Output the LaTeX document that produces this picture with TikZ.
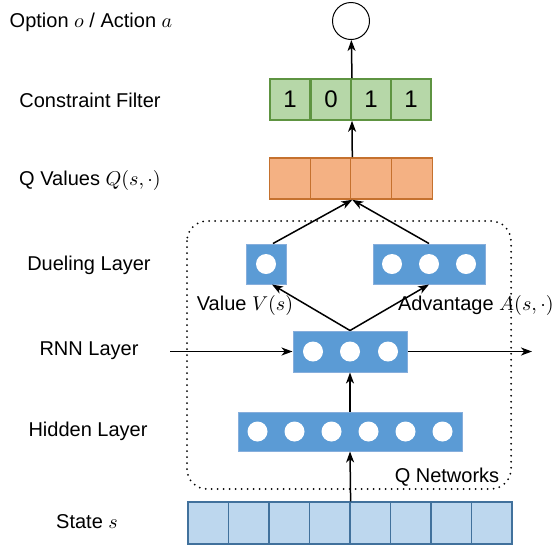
\documentclass[tikz,border=0pt]{standalone}
\usepackage{fontspec}
\setmainfont{Liberation Sans}
\usetikzlibrary{arrows.meta}

\definecolor{bluefill}{HTML}{5B9BD5}
\definecolor{blueline}{HTML}{86AEDC}
\definecolor{statefill}{HTML}{BDD7EE}
\definecolor{stateline}{HTML}{41719C}
\definecolor{greenfill}{HTML}{B6D7A8}
\definecolor{greenline}{HTML}{5E9441}
\definecolor{orangefill}{HTML}{F4B183}
\definecolor{orangeline}{HTML}{C5712E}

\begin{document}
\begin{tikzpicture}[x=0.5pt,y=-0.5pt,>={Stealth[length=5.5pt,width=4pt,inset=1.6pt]},
    arr/.style={->,line width=0.75pt},
    cell/.style={draw,inner sep=0pt,line width=0.8pt},
    unit/.style={circle,fill=white,minimum size=10pt,inner sep=0pt},
    layer/.style={draw=blueline,fill=bluefill,line width=0.5pt,inner sep=0pt,minimum height=20pt}]

        \useasboundingbox (0,0) rectangle (557,548);

        % row labels
        \begin{scope}[every node/.style={font=\fontsize{10}{12}\selectfont}]
          \node (lopt)   at (91,22)   {Option $o$ / Action $a$};
          \node (lfilt)  at (90,100)  {Constraint Filter};
          \node (lq)     at (90,180)  {Q Values $Q(s,\cdot)$};
          \node (lduel)  at (89,265)  {Dueling Layer};
          \node (lrnn)   at (89,351)  {RNN Layer};
          \node (lhid)   at (88,431)  {Hidden Layer};
          \node (lstate) at (87,522)  {State $s$};
          \node (lval)   at (245,305) {Value $V(s)$};
          \node[anchor=east,inner sep=1pt] (ladv) at (556,305) {Advantage $A(s,\cdot)$};
          \node (lnet)   at (447,477) {Q Networks};
        \end{scope}

        % Q networks region
        \draw[line width=1pt,line cap=round,dash pattern=on 0pt off 3pt,rounded corners=10pt]
          (187,221) rectangle (511,489);

        % output
        \node[circle,draw,line width=0.5pt,minimum size=18.5pt,inner sep=0pt] (out) at (351,21) {};

        % constraint filter
        \begin{scope}[every node/.style={cell,draw=greenline,fill=greenfill,minimum width=20.2pt,
            minimum height=20.5pt,font=\fontsize{12}{14}\selectfont}]
          \node (f1) at (290,99.5) {1};
          \node (f2) at (331,99.5) {0};
          \node (f3) at (371,99.5) {1};
          \node (f4) at (411,99.5) {1};
        \end{scope}

        % Q values
        \foreach \i/\x in {1/290,2/331,3/371,4/412}
          \node[cell,draw=orangeline,fill=orangefill,minimum width=20.5pt,minimum height=20.5pt]
            (q\i) at (\x,178.5) {};

        % state
        \foreach \i in {1,...,8}
          \node[cell,draw=stateline,fill=statefill,line width=0.6pt,minimum width=20.25pt,minimum height=21pt]
            (s\i) at (188+40.5*\i-20.25,523) {};

        % layers
        \node[layer,minimum width=20pt]  (val) at (266,264)   {};
        \node[layer,minimum width=56pt]  (adv) at (429,264)   {};
        \node[layer,minimum width=57pt,minimum height=20.5pt] (rnn) at (350,351.5) {};
        \node[layer,minimum width=112pt,minimum height=19.5pt] (hid) at (350,431.5) {};

        \node[unit] (v1) at (266,264) {};
        \foreach \i/\x in {1/392,2/429,3/466}
          \node[unit] (a\i) at (\x,264) {};
        \foreach \i/\x in {1/313,2/350,3/388}
          \node[unit] (r\i) at (\x,351.5) {};
        \foreach \i/\x in {1/257.5,2/294.5,3/331.5,4/368.5,5/405.5,6/442.5}
          \node[unit] (h\i) at (\x,431.5) {};

        \coordinate (rin)  at (170,351.5);
        \coordinate (rout) at (532,351.5);

        % connections
        \draw[arr] (s4.north east) -- (hid.south);
        \draw[arr] (hid.north) -- (rnn.south);
        \draw[arr] (rin) -- (rnn.west);
        \draw[arr] (rnn.east) -- (rout);
        \draw[arr] (rnn.north) -- ([xshift=3pt]val.south);
        \draw[arr] (rnn.north) -- (adv.south);
        \draw[arr] ([xshift=3.5pt]val.north) -- (q2.south east);
        \draw[arr] (adv.north) -- (q2.south east);
        \draw[arr] (q2.north east) -- (f2.south east);
        \draw[arr] (f2.north east) -- (out);

      \end{tikzpicture}
\end{document}
